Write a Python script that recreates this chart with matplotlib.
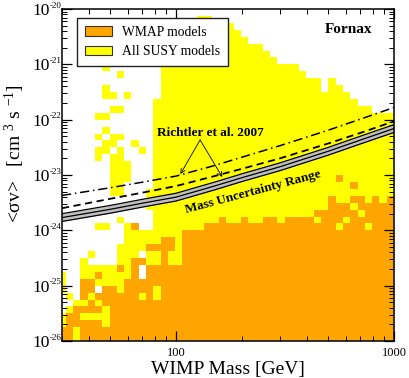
import numpy as np
import matplotlib
matplotlib.use('Agg')
from matplotlib import pyplot as plt
from matplotlib.colors import ListedColormap
from matplotlib.patches import Patch
from matplotlib.ticker import LogLocator, NullFormatter

plt.rcParams['font.family'] = 'Liberation Serif'
plt.rcParams['mathtext.fontset'] = 'custom'
plt.rcParams['mathtext.rm'] = 'Liberation Serif'
plt.rcParams['mathtext.it'] = 'Liberation Serif:italic'
plt.rcParams['mathtext.bf'] = 'Liberation Serif:bold'
plt.rcParams['xtick.direction'] = 'in'
plt.rcParams['ytick.direction'] = 'in'

# model scan, binned: '.' empty, 'y' all SUSY, 'o' WMAP  (top row = 1e-20)
grid = [
    "..........|..........|..........|..........|......",
    "..........|.........y|y.........|..........|......",
    "..........|.....yyyyy|yyyy......|..........|......",
    "..........|....yyyyyy|yyyyy.....|..........|......",
    "..........|....yyyyyy|yyyyyy....|..........|......",
    "..........|....yyyyyy|yyyyyyyy..|..........|......",
    "..........|....yyyyyy|yyyyyyyyy.|..........|......",
    "..........|....yyyyyy|yyyyyyyyyy|..........|......",
    "......y...|....yyyyyy|yyyyyyyyyy|yyy.......|......",
    "........y.|....yyyyyy|yyyyyyyyyy|yyyy......|......",
    "..........|....yyyyyy|yyyyyyyyyy|yyyyyy.y..|......",
    "......y...|....yyyyyy|yyyyyyyyyy|yyyyyy.yy.|......",
    "......yy.y|....yyyyyy|yyyyyyyyyy|yyyyyyyyyy|......",
    "..........|...yyyyyyy|yyyyyyyyyy|yyyyyyyyyy|y.....",
    ".......yy.|...yyyyyyy|yyyyyyyyyy|yyyyyyyyyy|yyy...",
    ".....yy...|...yyyyyyy|yyyyyyyyyy|yyyyyyyyyy|yyyyyy",
    "..........|...yyyyyyy|yyyyyyyyyy|yyyyyyyyyy|yyyyyy",
    "......y...|...yyyyyyy|yyyyyyyyyy|yyyyyyyyyy|yyyyyy",
    ".....y.yy.|...yyyyyyy|yyyyyyyyyy|yyyyyyyyyy|yyyyyy",
    "......yy..|y..yyyyyyy|yyyyyyyyyy|yyyyyyyyyy|yyyyyy",
    ".....yy.y.|.y.yyyyyyy|yyyyyyyyyy|yyyyyyyyyy|yyyyyy",
    ".....y.yy.|...yyyyyyy|yyyyyyyyyy|yyyyyyyyyy|yyyyyy",
    ".......yyy|...yyyyyyy|yyyyyyyyyy|yyyyyyyyyy|yyyyyy",
    ".......yyy|...yyyyyyy|yyyyyyyyyy|yyyyyyyyyy|yyyyyy",
    ".......yyy|...yyyyyyy|yyyyyyyyyy|yyyyyyyyoy|yyyyyy",
    ".......yy.|...yyyyyyy|yyyyyyyyyy|yyyyyyyyyy|oyyyyy",
    ".......yy.|..yyyyyyyy|yyyyyyyyyy|yyyyyyyyyy|yyyyyy",
    "..........|..yyyyyyyy|yyyyyyyyyy|yyyyyyyoyy|ooyoyo",
    "..........|..yyyyyyyy|yyyyyyyyyy|yyyyyyyooo|yooooo",
    "..........|...yyyyyyy|yyyyyyyyyy|yyyyyooooo|oyoooo",
    "........y.|...yyyyyyy|yyoyyoyyoo|yooooyoooy|oooooo",
    ".....yy..y|o..yyyyyyy|oooooooooo|ooooooooyo|ooyooo",
    ".........y|yyyyyyyooo|oooooooooo|oooooooooo|oooooo",
    ".........y|yyyyooyooo|oooooooooo|oooooooooo|oooooo",
    "........yy|yyooooyooo|oooooooooo|oooooooooo|oooooo",
    "....y...yy|y.yyoyyooo|oooooooooo|oooooooooo|oooooo",
    "...y....yy|ooyyoyyooo|oooooooooo|oooooooooo|oooooo",
    "...yyyyyoy|o.oooooooo|oooooooooo|oooooooooo|oooooo",
    "y..yyoyyyy|o.oooooooo|oooooooooo|oooooooooo|oooooo",
    "y..ooyyyyo|oooooooooo|oooooooooo|oooooooooo|oooooo",
    "y..oo.ooyo|oooyoooooo|oooooooooo|oooooooooo|oooooo",
    ".y.oyooooo|oyoyoooooo|oooooooooo|oooooooooo|oooooo",
    "..yyoyoooo|oooooooooo|oooooooooo|oooooooooo|oooooo",
    ".yooooyooo|oooooooooo|oooooooooo|oooooooooo|oooooo",
    "yooyyyyooo|oooooooooo|oooooooooo|oooooooooo|oooooo",
    "yoooooyooo|oooooooooo|oooooooooo|oooooooooo|oooooo",
    "ooyooooooo|oooooooooo|oooooooooo|oooooooooo|oooooo",
    "ooyooooooo|oooooooooo|oooooooooo|oooooooooo|oooooo",
]
mass_edges = np.logspace(1.4608, 3.0, 47)     # GeV bin edges
sigv_edges = np.logspace(-20, -26, 49)        # cm^3/s bin edges, top to bottom

# limit curves
mass_pts = [30, 50, 70, 100, 150, 200, 300, 500, 700, 1000]
band_mid = [1.70e-24, 2.40e-24, 3.09e-24, 3.98e-24, 6.31e-24, 8.91e-24,
            1.41e-23, 2.69e-23, 4.27e-23, 6.92e-23]
richtler_dashed = [2.51e-24, 3.72e-24, 4.79e-24, 6.31e-24, 9.55e-24, 1.29e-23,
                   2.00e-23, 3.72e-23, 5.75e-23, 9.33e-23]
richtler_dashdot = [4.27e-24, 5.89e-24, 7.41e-24, 9.55e-24, 1.48e-23, 2.09e-23,
                    3.39e-23, 6.46e-23, 1.02e-22, 1.66e-22]

ytick_exps = [-26, -25, -24, -23, -22, -21, -20]
xtick_vals = [100, 1000]
xtick_labels = ['100', '1000']

code = {'.': 0, 'y': 1, 'o': 2}
Z = np.array([[code[c] for c in row.replace('|', '')] for row in grid])
Z = np.ma.masked_equal(Z, 0)

fig = plt.figure(figsize=(4.09, 3.78), dpi=100)
ax = fig.add_axes([62/409, 37/378, 332/409, 332/378])
ax.set_xscale('log')
ax.set_yscale('log')

ax.pcolormesh(mass_edges, sigv_edges, Z, cmap=ListedColormap(['#ffff00', '#ffa500']),
              vmin=0.5, vmax=2.5, shading='flat', edgecolors='none',
              antialiased=False, zorder=1)

band_mid = np.array(band_mid)
band_hi = band_mid * 10**0.07
band_lo = band_mid / 10**0.07
ax.fill_between(mass_pts, band_lo, band_hi, color='#c0c0c0', lw=0, zorder=3)
for b in (band_hi, band_mid, band_lo):
    ax.plot(mass_pts, b, color='black', lw=0.9, zorder=4)
ax.plot(mass_pts, richtler_dashed, color='black', lw=1.3, dashes=(4, 2.5), zorder=4)
ax.plot(mass_pts, richtler_dashdot, color='black', lw=1.1, dashes=(6, 2.5, 1, 2.5), zorder=4)

ax.text(621, 4.2e-21, 'Fornax', fontsize=11, fontweight='bold', ha='center', va='center', zorder=6)
ax.text(143.6, 5.74e-23, 'Richtler et al. 2007', fontsize=9.5, fontweight='bold',
        ha='center', va='center', zorder=6)
for tip in [(104.8, 1.04e-23), (163, 9.2e-24)]:
    ax.annotate('', xy=tip, xytext=(129, 4.3e-23),
                arrowprops=dict(arrowstyle='->', color='black', lw=0.6,
                                shrinkA=0, shrinkB=0, mutation_scale=8), zorder=6)
ax.text(226, 4.93e-24, 'Mass Uncertainty Range', fontsize=9.5, fontweight='bold',
        rotation=15, ha='center', va='center', rotation_mode='anchor', zorder=6)

ax.set_xlim(30, 1000)
ax.set_ylim(1e-26, 1e-20)

ax.set_xticks(xtick_vals)
ax.set_xticklabels(xtick_labels)
ax.xaxis.set_minor_locator(LogLocator(base=10, subs=np.arange(2, 10), numticks=20))
ax.xaxis.set_minor_formatter(NullFormatter())
ax.set_yticks([10.0**e for e in ytick_exps])
ax.set_yticklabels(['10'] * len(ytick_exps))
ax.yaxis.set_minor_locator(LogLocator(base=10, subs=np.arange(2, 10), numticks=20))
ax.yaxis.set_minor_formatter(NullFormatter())
ax.tick_params(which='major', length=7, width=0.9, top=True, right=True)
ax.tick_params(which='minor', length=3.5, width=0.7, top=True, right=True)
ax.tick_params(axis='x', which='major', labelsize=9, pad=4)
ax.tick_params(axis='y', which='major', labelsize=12.5, pad=8.5)
for e in ytick_exps:
    ax.annotate('%d' % e, xy=(0, 10.0**e), xycoords=ax.get_yaxis_transform(),
                xytext=(-8.6, 2.5), textcoords='offset points',
                ha='left', va='center', fontsize=6.5, annotation_clip=False)
for s in ax.spines.values():
    s.set_linewidth(1.1)
    s.set_zorder(7)

ax.set_xlabel('WIMP Mass [GeV]', fontsize=14, labelpad=2)
ax.set_ylabel('<σv>   [cm $^{3}$ s $^{-1}$]', fontsize=14)
ax.yaxis.set_label_coords(-0.105, 0.565)

handles = [Patch(facecolor='#ffa500', edgecolor='#333333', lw=0.8, label='WMAP models'),
           Patch(facecolor='#ffff00', edgecolor='#333333', lw=0.8, label='All SUSY models')]
leg = ax.legend(handles=handles, loc='upper left', bbox_to_anchor=(0.045, 0.973),
                borderaxespad=0, fancybox=False, edgecolor='#222222', framealpha=1,
                fontsize=9.8, handlelength=2.0, handleheight=0.75, borderpad=0.6,
                labelspacing=0.45, handletextpad=0.7)
leg.get_frame().set_linewidth(1.0)
leg.set_zorder(8)

fig.savefig('out.png', dpi=100)
